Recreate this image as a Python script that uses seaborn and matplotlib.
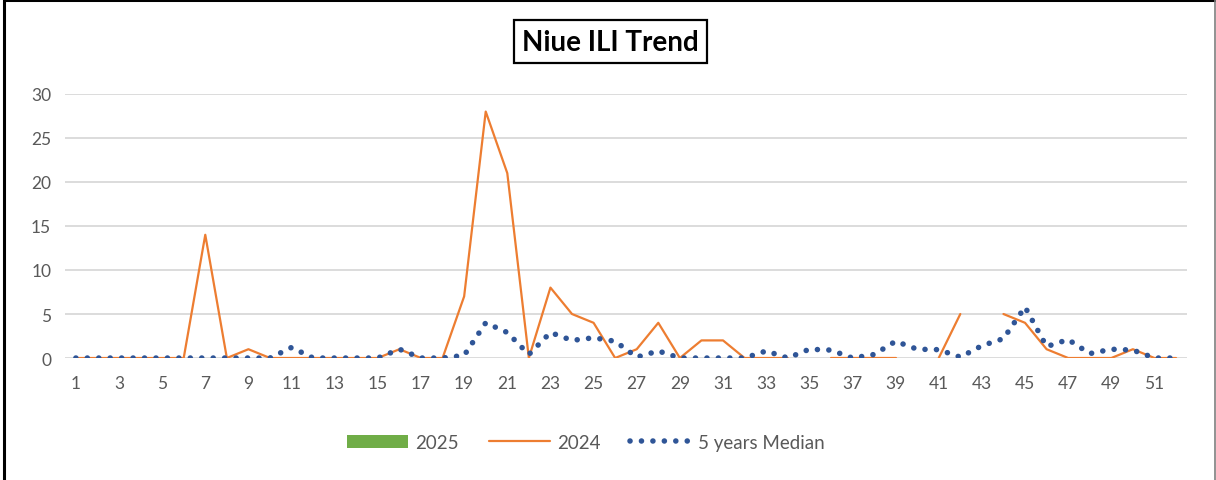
import numpy as np
import pandas as pd
import seaborn as sns
import matplotlib
matplotlib.use('Agg')
import matplotlib.pyplot as plt
from matplotlib.patches import Patch
from matplotlib.lines import Line2D

# weekly ILI counts
weeks = list(range(1, 53))
ili_2024 = [0, 0, 0, 0, 0, 0, 14, 0, 1, 0,
            0, 0, 0, 0, 0, 1, 0, 0, 7, 28,
            21, 0, 8, 5, 4, 0, 1, 4, 0, 2,
            2, 0, 0, 0, np.nan, 0, 0, 0, 0, np.nan,
            0, 5, np.nan, 5, 4, 1, 0, 0, 0, 1,
            0, 0]
median_5y = [0, 0, 0, 0, 0, 0, 0, 0, 0, 0,
             1.2, 0, 0, 0, 0, 1.0, 0, 0, 0.3, 4.0,
             2.9, 0.4, 2.9, 2.0, 2.3, 1.9, 0.1, 0.8, 0, 0,
             0, 0, 0.8, 0, 1.0, 0.9, 0, 0.4, 1.9, 1.0,
             0.95, 0.1, 1.4, 2.2, 5.8, 1.3, 2.1, 0.5, 1.0, 0.9,
             0, 0]
ili_2025 = [np.nan] * 52  # no data reported yet

ORANGE = '#ED7D31'
BLUE = '#2F5597'
GREEN = '#70AD47'
GRID = '#D9D9D9'
TXT = '#595959'

sns.set_style('white')
plt.rcParams['font.family'] = ['Lato', 'DejaVu Sans']

df = pd.DataFrame({'week': weeks, 'y2024': ili_2024, 'median': median_5y})
# segment id so gaps in 2024 stay as gaps
df['seg'] = df['y2024'].isna().cumsum()
df24 = df.dropna(subset=['y2024'])

fig = plt.figure(figsize=(12.16, 4.81), dpi=100)
ax = fig.add_axes([0.0535, 0.2536, 0.9225, 0.549])

sns.lineplot(data=df, x='week', y='median', ax=ax, color=BLUE, lw=4,
             linestyle=(0, (0.01, 2.05)), dash_capstyle='round', zorder=3)
sns.lineplot(data=df24, x='week', y='y2024', units='seg', estimator=None,
             ax=ax, color=ORANGE, lw=1.6, zorder=2)

ax.set_xlim(0.5, 52.5)
ax.set_ylim(0, 30)
ax.set_yticks(range(0, 31, 5))
ax.set_xticks(range(1, 53, 2))
ax.grid(axis='y', color=GRID, lw=1.3)
ax.set_axisbelow(True)
for s in ax.spines.values():
    s.set_visible(False)
ax.tick_params(axis='both', length=0, labelsize=12.5, labelcolor=TXT)
ax.tick_params(axis='x', pad=12)
ax.tick_params(axis='y', pad=10)
ax.set_xlabel('')
ax.set_ylabel('')

# title in a box
fig.text(0.502, 0.911, 'Niue ILI Trend', ha='center', va='center',
         fontsize=20, fontweight='bold', color='black',
         bbox=dict(boxstyle='square,pad=0.3', fc='white', ec='black', lw=1.6))

handles = [Patch(fc=GREEN, ec='none'),
           Line2D([], [], color=ORANGE, lw=1.6),
           Line2D([], [], color=BLUE, lw=4, linestyle=(0, (0.01, 2.05)),
                  dash_capstyle='round')]
leg = fig.legend(handles, ['2025', '2024', '5 years Median'], loc='center',
                 bbox_to_anchor=(0.482, 0.078), ncol=3, frameon=False,
                 fontsize=13.5, handlelength=3.25, handleheight=0.7,
                 handletextpad=0.37, columnspacing=1.6)
for t in leg.get_texts():
    t.set_color(TXT)

# outer frame like the pasted screenshot
fig.add_artist(Line2D([0.003, 0.003], [0, 0.997], color='black', lw=2.2,
                      transform=fig.transFigure))
fig.add_artist(Line2D([0.003, 0.999], [0.997, 0.997], color='black', lw=2.2,
                      transform=fig.transFigure))
fig.add_artist(Line2D([0.9992, 0.9992], [0, 0.997], color='#7F7F7F', lw=1.2,
                      transform=fig.transFigure))

fig.savefig('out.png', dpi=100)
